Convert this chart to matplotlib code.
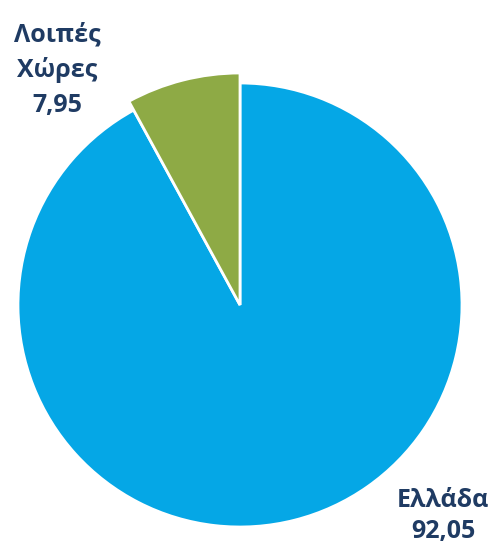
import matplotlib.pyplot as plt

# Κατανομή ανά χώρα (%)
labels = ["Ελλάδα", "Λοιπές\nΧώρες"]
values = [92.05, 7.95]
colors = ["#05A7E6", "#8EAA45"]

W, H = 499, 554
fig = plt.figure(figsize=(W / 100, H / 100), dpi=100)
ax = fig.add_axes([0, 0, 1, 1])

cx, cy, r = 240, H - 305, 222
wedges, _ = ax.pie(
    values,
    colors=colors,
    startangle=90,
    counterclock=False,
    explode=[0, 0.02],
    center=(cx, cy),
    radius=r,
    wedgeprops=dict(edgecolor="white", linewidth=2),
)
# το μικρό κομμάτι λίγο μεγαλύτερο
wedges[1].set_radius(r * 1.045)

ax.set_xlim(0, W)
ax.set_ylim(0, H)
ax.set_aspect("equal")
ax.axis("off")

txt = dict(fontsize=18, fontweight="bold", color="#1F3B63", family="Open Sans",
           ha="center", va="center")
ax.text(57, H - 70, f"{labels[1]}\n{values[1]:.2f}".replace(".", ","),
        linespacing=1.5, **txt)
ax.text(443, H - 516, f"{labels[0]}\n{values[0]:.2f}".replace(".", ","),
        linespacing=1.35, **txt)

fig.savefig("out.png", dpi=100)
